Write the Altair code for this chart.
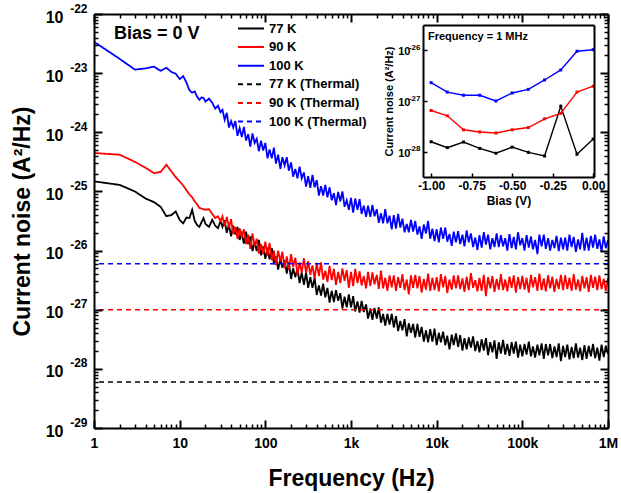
import altair as alt
import pandas as pd

FONT = "Liberation Sans"

# ---------------- main panel data ----------------
FREQ_LOW = [1, 2, 3, 4, 5, 6, 7, 8, 9, 10, 11, 12, 13, 14, 15, 16, 17, 18, 19, 20, 22, 24, 26, 28, 30]
FREQ_HIGH = [
    31.6, 33.5, 35.5, 37.6, 39.8, 42.2, 44.7, 47.3, 50.1, 53.1, 56.2, 59.6, 63.1, 66.8, 70.8, 75.0, 79.4, 84.1, 89.1, 94.4,
    100, 106, 112, 119, 126, 133, 141, 150, 158, 168, 178, 188, 200, 211, 224, 237, 251, 266, 282, 299,
    316, 335, 355, 376, 398, 422, 447, 473, 501, 531, 562, 596, 631, 668, 708, 750, 794, 841, 891, 944,
    1000, 1060, 1120, 1190, 1260, 1330, 1410, 1500, 1580, 1680, 1780, 1880, 2000, 2110, 2240, 2370, 2510, 2660, 2820, 2990,
    3160, 3350, 3550, 3760, 3980, 4220, 4470, 4730, 5010, 5310, 5620, 5960, 6310, 6680, 7080, 7500, 7940, 8410, 8910, 9440,
    10000, 10600, 11200, 11900, 12600, 13300, 14100, 15000, 15800, 16800, 17800, 18800, 20000, 21100, 22400, 23700, 25100, 26600, 28200, 29900,
    31600, 33500, 35500, 37600, 39800, 42200, 44700, 47300, 50100, 53100, 56200, 59600, 63100, 66800, 70800, 75000, 79400, 84100, 89100, 94400,
    100000, 106000, 112000, 119000, 126000, 133000, 141000, 150000, 158000, 168000, 178000, 188000, 200000, 211000, 224000, 237000, 251000, 266000, 282000, 299000,
    316000, 335000, 355000, 376000, 398000, 422000, 447000, 473000, 501000, 531000, 562000, 596000, 631000, 668000, 708000, 750000, 794000, 841000, 891000, 944000,
    1000000,
]

# log10 of current noise (A^2/Hz)
LOG_77_LOW = [-24.83, -24.89, -25.00, -25.12, -25.18, -25.26, -25.42, -25.40, -25.34, -25.48, -25.54, -25.44, -25.45,
              -25.31, -25.50, -25.57, -25.60, -25.52, -25.45, -25.55, -25.60, -25.48, -25.58, -25.62, -25.50]
LOG_90_LOW = [-24.35, -24.38, -24.50, -24.60, -24.69, -24.67, -24.55, -24.66, -24.76, -24.83, -24.90, -24.98, -25.05,
              -25.10, -25.17, -25.22, -25.28, -25.29, -25.30, -25.31, -25.30, -25.38, -25.45, -25.42, -25.50]
LOG_100_LOW = [-22.47, -22.76, -22.94, -22.92, -22.89, -22.96, -22.91, -22.98, -23.01, -23.10, -23.05, -23.16, -23.29,
               -23.33, -23.31, -23.40, -23.45, -23.41, -23.42, -23.48, -23.43, -23.50, -23.60, -23.55, -23.66]

LOG_77_HIGH = [
    -25.60, -25.49, -25.70, -25.56, -25.76, -25.58, -25.73, -25.60, -25.82, -25.71,
    -25.88, -25.68, -25.89, -25.76, -26.01, -25.85, -26.01, -25.82, -26.08, -25.93,
    -26.14, -25.95, -26.15, -25.96, -26.23, -26.10, -26.32, -26.13, -26.29, -26.16,
    -26.39, -26.20, -26.48, -26.30, -26.45, -26.30, -26.55, -26.37, -26.58, -26.37,
    -26.63, -26.45, -26.63, -26.46, -26.75, -26.59, -26.76, -26.56, -26.79, -26.63,
    -26.88, -26.68, -26.87, -26.67, -26.85, -26.72, -26.98, -26.78, -26.96, -26.74,
    -26.96, -26.77, -27.03, -26.86, -27.05, -26.85, -27.04, -26.91, -27.15, -26.98,
    -27.17, -26.97, -27.15, -26.96, -27.22, -27.07, -27.27, -27.07, -27.25, -27.07,
    -27.30, -27.11, -27.36, -27.19, -27.35, -27.16, -27.45, -27.23, -27.39, -27.24,
    -27.47, -27.24, -27.46, -27.29, -27.54, -27.35, -27.55, -27.33, -27.54, -27.32,
    -27.60, -27.39, -27.55, -27.37, -27.60, -27.44, -27.67, -27.42, -27.60, -27.40,
    -27.63, -27.43, -27.69, -27.48, -27.67, -27.47, -27.64, -27.45, -27.70, -27.53,
    -27.72, -27.50, -27.69, -27.48, -27.77, -27.55, -27.72, -27.52, -27.83, -27.55,
    -27.74, -27.51, -27.76, -27.58, -27.78, -27.55, -27.74, -27.54, -27.81, -27.59,
    -27.79, -27.58, -27.76, -27.54, -27.79, -27.62, -27.81, -27.59, -27.77, -27.57,
    -27.83, -27.58, -27.77, -27.58, -27.82, -27.62, -27.80, -27.57, -27.87, -27.61,
    -27.80, -27.59, -27.84, -27.63, -27.82, -27.57, -27.81, -27.64, -27.85, -27.60,
    -27.83, -27.61, -27.79, -27.58, -27.82, -27.64, -27.86, -27.59, -27.80, -27.61, -27.75,
]
LOG_90_HIGH = [
    -25.42, -25.59, -25.43, -25.61, -25.47, -25.72, -25.60, -25.80, -25.62, -25.78,
    -25.64, -25.89, -25.73, -25.97, -25.71, -25.93, -25.80, -26.05, -25.89, -26.06,
    -25.85, -26.09, -25.87, -26.16, -26.00, -26.24, -26.00, -26.19, -26.02, -26.30,
    -26.10, -26.32, -26.06, -26.28, -26.12, -26.41, -26.20, -26.37, -26.13, -26.38,
    -26.18, -26.41, -26.25, -26.48, -26.21, -26.43, -26.20, -26.49, -26.34, -26.53,
    -26.26, -26.50, -26.31, -26.58, -26.36, -26.55, -26.30, -26.51, -26.33, -26.63,
    -26.36, -26.60, -26.31, -26.55, -26.35, -26.59, -26.43, -26.64, -26.36, -26.60,
    -26.37, -26.57, -26.41, -26.65, -26.34, -26.64, -26.46, -26.68, -26.42, -26.62,
    -26.42, -26.68, -26.45, -26.63, -26.40, -26.67, -26.49, -26.74, -26.42, -26.63,
    -26.41, -26.64, -26.43, -26.71, -26.48, -26.66, -26.39, -26.68, -26.46, -26.67,
    -26.45, -26.69, -26.40, -26.62, -26.43, -26.72, -26.49, -26.66, -26.42, -26.64,
    -26.42, -26.65, -26.47, -26.70, -26.44, -26.67, -26.38, -26.63, -26.50, -26.69,
    -26.46, -26.68, -26.41, -26.77, -26.45, -26.64, -26.43, -26.70, -26.48, -26.66,
    -26.40, -26.67, -26.49, -26.69, -26.44, -26.63, -26.42, -26.71, -26.45, -26.65,
    -26.43, -26.66, -26.46, -26.71, -26.41, -26.62, -26.45, -26.68, -26.39, -26.67,
    -26.47, -26.69, -26.42, -26.64, -26.44, -26.70, -26.48, -26.65, -26.41, -26.67,
    -26.42, -26.65, -26.46, -26.68, -26.40, -26.66, -26.49, -26.69, -26.43, -26.64,
    -26.45, -26.70, -26.41, -26.63, -26.44, -26.67, -26.42, -26.65, -26.48, -26.68, -26.46,
]
LOG_100_HIGH = [
    -23.62, -23.79, -23.67, -23.92, -23.81, -23.92, -23.81, -24.06, -23.93, -24.08,
    -23.91, -24.14, -24.03, -24.24, -24.02, -24.18, -24.11, -24.32, -24.14, -24.31,
    -24.18, -24.44, -24.29, -24.44, -24.26, -24.53, -24.38, -24.62, -24.42, -24.56,
    -24.42, -24.65, -24.51, -24.75, -24.62, -24.78, -24.58, -24.78, -24.68, -24.92,
    -24.74, -24.94, -24.72, -24.93, -24.81, -25.07, -24.91, -25.07, -24.89, -25.10,
    -24.93, -25.15, -25.03, -25.23, -25.01, -25.17, -25.00, -25.26, -25.15, -25.31,
    -25.11, -25.36, -25.12, -25.31, -25.13, -25.38, -25.24, -25.43, -25.24, -25.43,
    -25.23, -25.42, -25.30, -25.53, -25.37, -25.54, -25.30, -25.54, -25.41, -25.64,
    -25.40, -25.63, -25.38, -25.61, -25.46, -25.69, -25.55, -25.69, -25.48, -25.68,
    -25.50, -25.73, -25.59, -25.80, -25.56, -25.71, -25.50, -25.80, -25.63, -25.84,
    -25.64, -25.86, -25.61, -25.80, -25.61, -25.85, -25.72, -25.92, -25.68, -25.86,
    -25.67, -25.89, -25.73, -25.93, -25.66, -25.86, -25.71, -25.94, -25.78, -25.99,
    -25.74, -25.95, -25.69, -25.90, -25.73, -25.98, -25.79, -25.94, -25.71, -25.94,
    -25.74, -25.93, -25.79, -26.00, -25.72, -25.96, -25.77, -25.98, -25.69, -25.91,
    -25.79, -26.00, -25.74, -25.95, -25.76, -25.98, -25.82, -26.06, -25.73, -25.93,
    -25.73, -25.97, -25.79, -26.00, -25.82, -25.96, -25.75, -26.01, -25.78, -25.98,
    -25.78, -26.00, -25.73, -25.94, -25.77, -26.02, -25.81, -25.98, -25.70, -26.00,
    -25.78, -26.00, -25.75, -25.95, -25.73, -25.97, -25.81, -26.02, -25.76, -25.96, -25.82,
]

SERIES = ["77 K", "90 K", "100 K"]
THERMAL_NAMES = ["77 K (Thermal)", "90 K (Thermal)", "100 K (Thermal)"]
THERMAL_VALUES = [6.0e-29, 1.0e-27, 6.0e-27]
SERIES_ALL = SERIES + THERMAL_NAMES
COLORS = ["#000000", "#ff0000", "#0000ff", "#000000", "#ff0000", "#0000ff"]
DASHES = [[1, 0], [1, 0], [1, 0], [5, 4], [5, 4], [5, 4]]

X_DOMAIN = [1, 1e6]
Y_DOMAIN = [1e-29, 1e-22]
X_TICKS = [1, 10, 100, 1000, 10000, 100000, 1000000]
X_TICK_TEXT = ["1", "10", "100", "1k", "10k", "100k", "1M"]
Y_TICKS = [1e-29, 1e-28, 1e-27, 1e-26, 1e-25, 1e-24, 1e-23, 1e-22]
MINOR_STEPS = [2, 3, 4, 5, 6, 7, 8, 9]

# ---------------- inset data (frequency = 1 MHz) ----------------
BIAS = [-1.0, -0.9, -0.8, -0.7, -0.6, -0.5, -0.4, -0.3, -0.2, -0.1, 0.0]
INSET_77 = [1.57e-28, 1.2e-28, 1.55e-28, 1.16e-28, 9.3e-29, 1.23e-28, 9.7e-29, 8.2e-29, 7.9e-28, 8.9e-29, 1.77e-28]
INSET_90 = [6.5e-28, 5.1e-28, 2.7e-28, 2.45e-28, 2.34e-28, 2.7e-28, 3.0e-28, 4.45e-28, 5.7e-28, 1.5e-27, 1.96e-27]
INSET_100 = [2.3e-27, 1.5e-27, 1.3e-27, 1.3e-27, 1.0e-27, 1.44e-27, 1.7e-27, 2.6e-27, 4.1e-27, 9.6e-27, 1.03e-26]
INSET_X_TICKS = [-1.0, -0.75, -0.5, -0.25, 0.0]
INSET_X_DOMAIN = [-1.05, 0.005]
INSET_Y_TICKS = [1e-28, 1e-27, 1e-26]
INSET_Y_DOMAIN = [10 ** -28.5, 10 ** -25.5]

# ---------------- tables ----------------
freqs = FREQ_LOW + FREQ_HIGH
rows = []
for name, low, high in zip(SERIES, [LOG_77_LOW, LOG_90_LOW, LOG_100_LOW], [LOG_77_HIGH, LOG_90_HIGH, LOG_100_HIGH]):
    vals = low + high
    assert len(vals) == len(freqs), (name, len(vals), len(freqs))
    for f, v in zip(freqs, vals):
        rows.append({"series": name, "freq": f, "S": 10 ** v})
noise_df = pd.DataFrame(rows)
thermal_df = pd.DataFrame({"series": THERMAL_NAMES, "S": THERMAL_VALUES})
corner_df = pd.DataFrame({"freq": X_DOMAIN, "S": Y_DOMAIN})

inset_rows = []
for name, vals in zip(SERIES, [INSET_77, INSET_90, INSET_100]):
    for b, v in zip(BIAS, vals):
        inset_rows.append({"series": name, "bias": b, "S": v})
inset_df = pd.DataFrame(inset_rows)
inset_corner_df = pd.DataFrame({"bias": INSET_X_DOMAIN, "S": INSET_Y_DOMAIN})

X_MINOR = [m * 10 ** d for d in range(6) for m in MINOR_STEPS]
Y_MINOR = [m * 10.0 ** e for e in range(-29, -22) for m in MINOR_STEPS]

W, H = 514, 414
IN_L, IN_R, IN_T, IN_B = 329, 500, 11, 163

x_expr = "[" + ",".join("'%s'" % t for t in X_TICK_TEXT) + "][round(log(datum.value)/LN10)]"
exp_expr = "'-' + round(-log(datum.value)/LN10)"
ix_expr = "replace(format(datum.value, '.2f'), '\u2212', '-')"

xs = alt.Scale(type="log", domain=X_DOMAIN, nice=False)
ys = alt.Scale(type="log", domain=Y_DOMAIN, nice=False)
color_scale = alt.Scale(domain=SERIES_ALL, range=COLORS)
dash_scale = alt.Scale(domain=SERIES_ALL, range=DASHES)

legend = alt.Legend(
    orient="none", legendX=143, legendY=8, title=None, symbolType="stroke",
    symbolSize=676, symbolStrokeWidth=2, clipHeight=13, rowPadding=4.6,
    labelFont=FONT, labelFontSize=13, labelFontWeight="bold", labelColor="black",
    labelOffset=4, padding=0,
)

TXT = dict(labelFont=FONT, labelFontWeight="bold", labelColor="black",
           titleFont=FONT, titleFontWeight="bold", titleColor="black")


def tick_axis(orient, offset, values, size, width, domain):
    return alt.Axis(orient=orient, offset=offset, values=values, labels=False, ticks=True,
                    tickSize=size, tickWidth=width, tickColor="black", domain=domain,
                    domainColor="black", domainWidth=2, grid=False, title="", zindex=2)


def text_axis(orient, offset, values, expr, size, pad, loff, domain=False, **kw):
    return alt.Axis(orient=orient, offset=offset, values=values, labelExpr=expr, ticks=False,
                    tickSize=0, domain=domain, domainColor="black", domainWidth=2,
                    labelFontSize=size, labelPadding=pad, labelOffset=loff, labelFlush=False,
                    labelOverlap=False, grid=False, zindex=2, **TXT, **kw)


def axis_layer(data, xf, yf, xsc, ysc, xaxis, yaxis):
    return alt.Chart(data).mark_point(opacity=0).encode(
        x=alt.X(xf, scale=xsc, axis=xaxis), y=alt.Y(yf, scale=ysc, axis=yaxis))


x_lab = text_axis("bottom", 0, X_TICKS, x_expr, 14, 8, 0, domain=True,
                  title="Frequency (Hz)", titleFontSize=23, titleX=W / 2, titleY=50,
                  titleBaseline="middle", titleAlign="center")
y_base = text_axis("left", 0, Y_TICKS, "'10'", 16, 31, 3, domain=True,
                   title="Current noise (A²/Hz)", titleFontSize=23, titleX=-72, titleY=207,
                   titleAngle=270, titleBaseline="middle", titleAlign="center")
y_exp = text_axis("left", 0, Y_TICKS, exp_expr, 12, 7, -6, title="")

main_layers = [
    axis_layer(corner_df, "freq:Q", "S:Q", xs, ys, x_lab, y_base),
    axis_layer(corner_df, "freq:Q", "S:Q", xs, ys, None, y_exp),
    axis_layer(corner_df, "freq:Q", "S:Q", xs, ys,
               tick_axis("top", -H, X_TICKS, 8, 2, False), tick_axis("right", -W, Y_TICKS, 8, 2, False)),
    axis_layer(corner_df, "freq:Q", "S:Q", xs, ys,
               tick_axis("bottom", -H, X_TICKS, 8, 2, True), tick_axis("left", -W, Y_TICKS, 8, 2, True)),
    axis_layer(corner_df, "freq:Q", "S:Q", xs, ys,
               tick_axis("top", -H, X_MINOR, 4, 1.5, False), tick_axis("right", -W, Y_MINOR, 4, 1.5, False)),
    axis_layer(corner_df, "freq:Q", "S:Q", xs, ys,
               tick_axis("bottom", -H, X_MINOR, 4, 1.5, False), tick_axis("left", -W, Y_MINOR, 4, 1.5, False)),
]
for name in SERIES:
    main_layers.append(
        alt.Chart(noise_df[noise_df["series"] == name]).mark_line(strokeWidth=1.8, clip=True).encode(
            x=alt.X("freq:Q", scale=xs, axis=None),
            y=alt.Y("S:Q", scale=ys, axis=None),
            color=alt.Color("series:N", scale=color_scale, legend=legend),
            strokeDash=alt.StrokeDash("series:N", scale=dash_scale, legend=legend),
        )
    )
main_layers.append(
    alt.Chart(thermal_df).mark_rule(strokeWidth=1.6).encode(
        y=alt.Y("S:Q", scale=ys, axis=None),
        color=alt.Color("series:N", scale=color_scale, legend=legend),
        strokeDash=alt.StrokeDash("series:N", scale=dash_scale, legend=legend),
    )
)
main_layers.append(
    alt.Chart(pd.DataFrame({"label": ["Bias = 0 V"]})).mark_text(
        font=FONT, fontSize=18, fontWeight="bold", align="left", baseline="middle", color="black"
    ).encode(text="label:N", x=alt.value(20), y=alt.value(20))
)
main = alt.layer(*main_layers).resolve_axis(x="independent", y="independent")

# ---------------- inset ----------------
xi = alt.Scale(domain=INSET_X_DOMAIN, range=[IN_L, IN_R], nice=False, zero=False)
yi = alt.Scale(type="log", domain=INSET_Y_DOMAIN, range=[IN_B, IN_T], nice=False)
ci = alt.Scale(domain=SERIES, range=COLORS[:3])

xi_lab = text_axis("bottom", -(H - IN_B), INSET_X_TICKS, ix_expr, 12, 3, 0, domain=True,
                   title="Bias (V)", titleFontSize=12, titleX=(IN_L + IN_R) / 2, titleY=23,
                   titleBaseline="middle", titleAlign="center")
yi_base = text_axis("left", -IN_L, INSET_Y_TICKS, "'10'", 11, 13, 1.5, domain=True,
                    title="Current noise (A²/Hz)", titleFontSize=11, titleX=-34,
                    titleY=(IN_T + IN_B) / 2, titleAngle=270, titleBaseline="middle",
                    titleAlign="center")
yi_exp = text_axis("left", -IN_L, INSET_Y_TICKS, exp_expr, 8, 3, -3, title="")

inset_layers = [
    axis_layer(inset_corner_df, "bias:Q", "S:Q", xi, yi, xi_lab, yi_base),
    axis_layer(inset_corner_df, "bias:Q", "S:Q", xi, yi, None, yi_exp),
    axis_layer(inset_corner_df, "bias:Q", "S:Q", xi, yi,
               tick_axis("top", -IN_T, INSET_X_TICKS, 0, 1, True),
               tick_axis("right", -(W - IN_R), INSET_Y_TICKS, 0, 1, True)),
    axis_layer(inset_corner_df, "bias:Q", "S:Q", xi, yi,
               tick_axis("top", -IN_B, INSET_X_TICKS, 4, 1.5, False),
               tick_axis("right", -(W - IN_L), INSET_Y_TICKS, 4, 1.5, False)),
]
for name in SERIES:
    sub = inset_df[inset_df["series"] == name]
    enc = dict(x=alt.X("bias:Q", scale=xi, axis=None), y=alt.Y("S:Q", scale=yi, axis=None),
               color=alt.Color("series:N", scale=ci, legend=None))
    inset_layers.append(alt.Chart(sub).mark_line(strokeWidth=1.4).encode(**enc))
    inset_layers.append(alt.Chart(sub).mark_square(size=9, opacity=1).encode(**enc))
inset_layers.append(
    alt.Chart(pd.DataFrame({"label": ["Frequency = 1 MHz"]})).mark_text(
        font=FONT, fontSize=11, fontWeight="bold", align="left", baseline="middle", color="black"
    ).encode(text="label:N", x=alt.value(IN_L + 5), y=alt.value(IN_T + 12))
)
inset = alt.layer(*inset_layers).resolve_axis(x="independent", y="independent")

chart = alt.layer(main, inset).resolve_scale(
    x="independent", y="independent", color="independent", strokeDash="independent"
).properties(
    width=W, height=H,
    padding={"left": 94, "top": 14, "right": 13, "bottom": 65},
    autosize=alt.AutoSizeParams(type="none"),
    background="white",
).configure_view(stroke="transparent")

chart.save("out.html", embed_options={"renderer": "svg", "actions": False})
